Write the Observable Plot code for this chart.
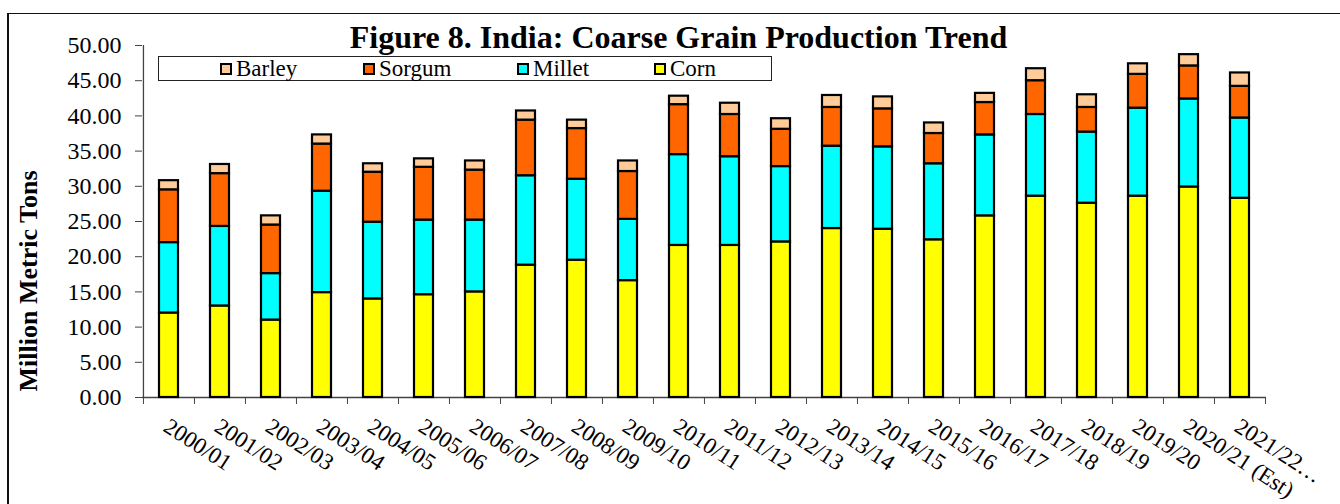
<!DOCTYPE html>
<html>
<head>
<meta charset="utf-8">
<script src="https://cdn.jsdelivr.net/npm/d3@7"></script>
<script src="https://cdn.jsdelivr.net/npm/@observablehq/plot@0.6"></script>
<style>
  html, body { margin: 0; padding: 0; background: #fff; }
  #wrap { position: relative; width: 1340px; height: 504px; overflow: hidden; font-family: "Liberation Serif", "Times New Roman", serif; color: #000; }
  #frame { position: absolute; left: 7px; top: 13px; width: 1340px; height: 500px; border-left: 2px solid #111; border-top: 1.5px solid #111; box-sizing: border-box; }
  #title { position: absolute; left: 0; width: 1357px; top: 21px; text-align: center; font-weight: bold; font-size: 32px; line-height: 32px; white-space: nowrap; }
  #legend { position: absolute; left: 158px; top: 56px; width: 614px; height: 25px; border: 1px solid #222; box-sizing: border-box; background: #fff; }
  .item { position: absolute; top: 0; height: 25px; font-size: 23px; line-height: 25px; white-space: nowrap; }
  .sw { position: absolute; top: 6px; width: 12px; height: 12px; border: 2px solid #000; box-sizing: border-box; }
  .lbl { position: absolute; top: -1px; }
  #ylabel { position: absolute; left: 29px; top: 281px; transform: translate(-50%, -50%) rotate(-90deg); font-weight: bold; font-size: 26px; white-space: nowrap; }
  svg { position: absolute; left: 0; top: 0; }
</style>
</head>
<body>
<div id="wrap">
  <div id="frame"></div>
  <div id="chart"></div>
  <div id="title"></div>
  <div id="legend"></div>
  <div id="ylabel"></div>
</div>
<script>
// ---- data ----
const categories = ["2000/01","2001/02","2002/03","2003/04","2004/05","2005/06","2006/07","2007/08","2008/09","2009/10","2010/11","2011/12","2012/13","2013/14","2014/15","2015/16","2016/17","2017/18","2018/19","2019/20","2020/21 (Est)","2021/22\u2026"];
const corn   = [12.0,13.0,11.0,14.9,14.0,14.6,15.0,18.8,19.5,16.6,21.6,21.6,22.1,24.0,23.9,22.4,25.8,28.6,27.6,28.6,29.9,28.3];
const millet = [10.0,11.3, 6.6,14.4,10.9,10.6,10.2,12.7,11.5, 8.7,12.9,12.6,10.7,11.7,11.7,10.8,11.5,11.6,10.1,12.5,12.5,11.4];
const sorgum = [ 7.5, 7.5, 6.9, 6.7, 7.1, 7.5, 7.1, 7.9, 7.2, 6.8, 7.1, 6.0, 5.3, 5.5, 5.4, 4.3, 4.6, 4.8, 3.5, 4.8, 4.7, 4.5];
const barley = [ 1.3, 1.3, 1.3, 1.3, 1.2, 1.2, 1.3, 1.3, 1.2, 1.5, 1.2, 1.6, 1.5, 1.7, 1.7, 1.5, 1.3, 1.7, 1.8, 1.5, 1.6, 1.9];
const crops = ["Corn","Millet","Sorgum","Barley"];
const cropColors = ["#FFFF00","#00FFFF","#FF6600","#FFCC99"];
const legendOrder = ["Barley","Sorgum","Millet","Corn"];
const yTicks = [0,5,10,15,20,25,30,35,40,45,50];
const titleText = "Figure 8. India: Coarse Grain Production Trend";
const yLabelText = "Million Metric Tons";

// ---- build table ----
const series = {Corn: corn, Millet: millet, Sorgum: sorgum, Barley: barley};
const data = [];
categories.forEach((c, i) => {
  crops.forEach(k => data.push({year: c, crop: k, value: series[k][i]}));
});

const W = 1340, H = 504, mL = 142, mR = 74, mT = 45, mB = 107;
const step = (W - mL - mR) / categories.length;
const axisColor = "#444";

const chart = Plot.plot({
  width: W, height: H,
  marginLeft: mL, marginRight: mR, marginTop: mT, marginBottom: mB,
  x: {type: "band", domain: categories, padding: 0},
  y: {domain: [0, 50]},
  color: {domain: crops, range: cropColors},
  style: {fontFamily: "Liberation Serif", fontSize: "24px", color: "#000", background: "transparent", overflow: "visible"},
  marks: [
    Plot.ruleY([0], {stroke: axisColor, strokeWidth: 1.3}),
    Plot.ruleX([categories[0]], {dx: -step / 2, y1: yTicks[0], y2: yTicks[yTicks.length - 1], stroke: axisColor, strokeWidth: 1.3}),
    Plot.barY(data, Plot.stackY({x: "year", y: "value", fill: "crop", order: crops, insetLeft: 16, insetRight: 16, stroke: "#000", strokeWidth: 2.2})),
    Plot.axisY({ticks: yTicks, tickFormat: d => d.toFixed(2), tickSize: 7, tickPadding: 14, fontSize: 24, stroke: axisColor, label: null}),
    Plot.axisX({tickSize: 7, tickFormat: () => "", dx: -step / 2, stroke: axisColor, label: null}),
    Plot.axisX([categories[categories.length - 1]], {tickSize: 7, tickFormat: () => "", dx: step / 2, stroke: axisColor, label: null}),
    Plot.axisX({tickSize: 0, tickRotate: 33, textAnchor: "start", lineAnchor: "top", tickPadding: 19, dx: 2, fontSize: 23, label: null})
  ]
});
document.getElementById("chart").appendChild(chart);

document.getElementById("title").textContent = titleText;
document.getElementById("ylabel").textContent = yLabelText;

// legend
const legend = document.getElementById("legend");
const swatchX = [61, 204, 358, 495]; // relative to legend box
legendOrder.forEach((name, i) => {
  const item = document.createElement("div");
  item.className = "item";
  item.style.left = swatchX[i] + "px";
  const sw = document.createElement("div");
  sw.className = "sw";
  sw.style.background = cropColors[crops.indexOf(name)];
  sw.style.left = "0px";
  const lb = document.createElement("div");
  lb.className = "lbl";
  lb.style.left = "16px";
  lb.textContent = name;
  item.appendChild(sw); item.appendChild(lb);
  legend.appendChild(item);
});
</script>
</body>
</html>
